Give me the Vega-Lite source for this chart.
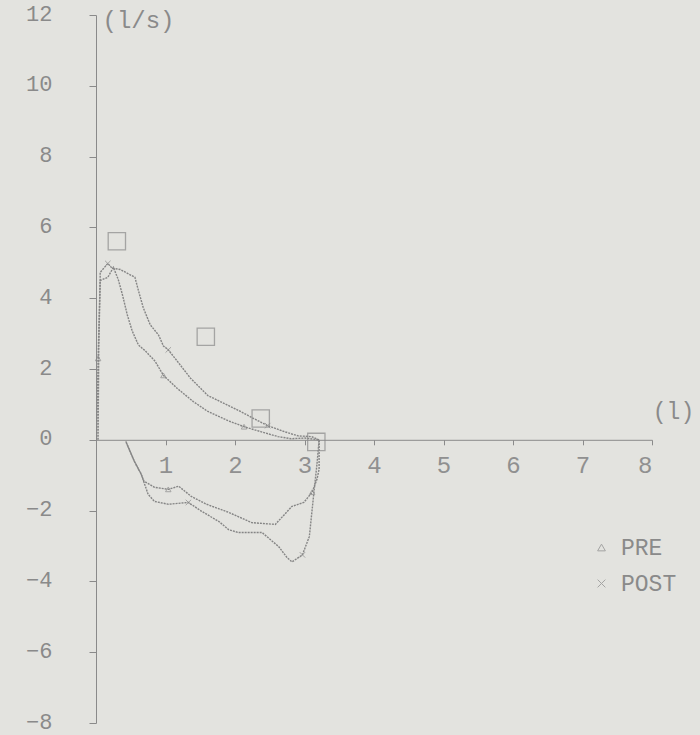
{
  "$schema": "https://vega.github.io/schema/vega-lite/v6.json",
  "width": 556,
  "height": 708,
  "autosize": {"type": "none"},
  "padding": {"left": 96, "top": 15, "right": 48, "bottom": 12},
  "background": "#e3e3df",
  "config": {"view": {"stroke": null}, "font": "Liberation Mono"},
  "datasets": {
    "loops": [
      {"s": "POST", "i": 1, "v": 0.03, "f": 0},
      {"s": "POST", "i": 2, "v": 0.04, "f": 2.6},
      {"s": "POST", "i": 3, "v": 0.06, "f": 4.5},
      {"s": "POST", "i": 4, "v": 0.06, "f": 4.73},
      {"s": "POST", "i": 5, "v": 0.17, "f": 4.98},
      {"s": "POST", "i": 6, "v": 0.23, "f": 4.85},
      {"s": "POST", "i": 7, "v": 0.35, "f": 4.81},
      {"s": "POST", "i": 8, "v": 0.56, "f": 4.59},
      {"s": "POST", "i": 9, "v": 0.61, "f": 4.22},
      {"s": "POST", "i": 10, "v": 0.68, "f": 3.73},
      {"s": "POST", "i": 11, "v": 0.78, "f": 3.25},
      {"s": "POST", "i": 12, "v": 0.9, "f": 2.96},
      {"s": "POST", "i": 13, "v": 0.97, "f": 2.65},
      {"s": "POST", "i": 14, "v": 1.04, "f": 2.54},
      {"s": "POST", "i": 15, "v": 1.17, "f": 2.22},
      {"s": "POST", "i": 16, "v": 1.36, "f": 1.74},
      {"s": "POST", "i": 17, "v": 1.61, "f": 1.25},
      {"s": "POST", "i": 18, "v": 1.84, "f": 1.03},
      {"s": "POST", "i": 19, "v": 2.08, "f": 0.8},
      {"s": "POST", "i": 20, "v": 2.27, "f": 0.6},
      {"s": "POST", "i": 21, "v": 2.47, "f": 0.4},
      {"s": "POST", "i": 22, "v": 2.71, "f": 0.23},
      {"s": "POST", "i": 23, "v": 2.91, "f": 0.11},
      {"s": "POST", "i": 24, "v": 3.1, "f": 0.09},
      {"s": "POST", "i": 25, "v": 3.21, "f": 0},
      {"s": "POST", "i": 26, "v": 3.18, "f": -0.68},
      {"s": "POST", "i": 27, "v": 3.14, "f": -1.4},
      {"s": "POST", "i": 28, "v": 3.11, "f": -1.97},
      {"s": "POST", "i": 29, "v": 3.07, "f": -2.73},
      {"s": "POST", "i": 30, "v": 2.97, "f": -3.25},
      {"s": "POST", "i": 31, "v": 2.82, "f": -3.45},
      {"s": "POST", "i": 32, "v": 2.75, "f": -3.33},
      {"s": "POST", "i": 33, "v": 2.63, "f": -3.02},
      {"s": "POST", "i": 34, "v": 2.39, "f": -2.62},
      {"s": "POST", "i": 35, "v": 2.05, "f": -2.62},
      {"s": "POST", "i": 36, "v": 1.91, "f": -2.54},
      {"s": "POST", "i": 37, "v": 1.77, "f": -2.31},
      {"s": "POST", "i": 38, "v": 1.52, "f": -2.02},
      {"s": "POST", "i": 39, "v": 1.33, "f": -1.77},
      {"s": "POST", "i": 40, "v": 1.04, "f": -1.82},
      {"s": "POST", "i": 41, "v": 0.84, "f": -1.74},
      {"s": "POST", "i": 42, "v": 0.75, "f": -1.54},
      {"s": "POST", "i": 43, "v": 0.65, "f": -0.97},
      {"s": "POST", "i": 44, "v": 0.55, "f": -0.6},
      {"s": "POST", "i": 45, "v": 0.43, "f": -0.05},
      {"s": "PRE", "i": 1, "v": 0.01, "f": 0},
      {"s": "PRE", "i": 2, "v": 0.03, "f": 2.3},
      {"s": "PRE", "i": 3, "v": 0.06, "f": 4.5},
      {"s": "PRE", "i": 4, "v": 0.17, "f": 4.59},
      {"s": "PRE", "i": 5, "v": 0.25, "f": 4.87},
      {"s": "PRE", "i": 6, "v": 0.32, "f": 4.53},
      {"s": "PRE", "i": 7, "v": 0.38, "f": 4.1},
      {"s": "PRE", "i": 8, "v": 0.45, "f": 3.53},
      {"s": "PRE", "i": 9, "v": 0.52, "f": 3.08},
      {"s": "PRE", "i": 10, "v": 0.61, "f": 2.68},
      {"s": "PRE", "i": 11, "v": 0.71, "f": 2.51},
      {"s": "PRE", "i": 12, "v": 0.85, "f": 2.22},
      {"s": "PRE", "i": 13, "v": 0.97, "f": 1.82},
      {"s": "PRE", "i": 14, "v": 1.17, "f": 1.45},
      {"s": "PRE", "i": 15, "v": 1.4, "f": 1.08},
      {"s": "PRE", "i": 16, "v": 1.61, "f": 0.8},
      {"s": "PRE", "i": 17, "v": 1.9, "f": 0.54},
      {"s": "PRE", "i": 18, "v": 2.13, "f": 0.37},
      {"s": "PRE", "i": 19, "v": 2.37, "f": 0.23},
      {"s": "PRE", "i": 20, "v": 2.62, "f": 0.09},
      {"s": "PRE", "i": 21, "v": 2.81, "f": 0.03},
      {"s": "PRE", "i": 22, "v": 3.0, "f": 0.05},
      {"s": "PRE", "i": 23, "v": 3.21, "f": 0},
      {"s": "PRE", "i": 24, "v": 3.21, "f": -0.83},
      {"s": "PRE", "i": 25, "v": 3.18, "f": -1.11},
      {"s": "PRE", "i": 26, "v": 3.11, "f": -1.48},
      {"s": "PRE", "i": 27, "v": 2.99, "f": -1.77},
      {"s": "PRE", "i": 28, "v": 2.82, "f": -1.88},
      {"s": "PRE", "i": 29, "v": 2.58, "f": -2.39},
      {"s": "PRE", "i": 30, "v": 2.24, "f": -2.34},
      {"s": "PRE", "i": 31, "v": 1.91, "f": -2.05},
      {"s": "PRE", "i": 32, "v": 1.59, "f": -1.82},
      {"s": "PRE", "i": 33, "v": 1.37, "f": -1.6},
      {"s": "PRE", "i": 34, "v": 1.19, "f": -1.31},
      {"s": "PRE", "i": 35, "v": 1.04, "f": -1.4},
      {"s": "PRE", "i": 36, "v": 0.84, "f": -1.34},
      {"s": "PRE", "i": 37, "v": 0.69, "f": -1.17},
      {"s": "PRE", "i": 38, "v": 0.65, "f": -0.97},
      {"s": "PRE", "i": 39, "v": 0.55, "f": -0.6},
      {"s": "PRE", "i": 40, "v": 0.43, "f": -0.05}
    ],
    "markers": [
      {"s": "POST", "v": 0.17, "f": 4.98},
      {"s": "POST", "v": 1.04, "f": 2.54},
      {"s": "POST", "v": 2.47, "f": 0.4},
      {"s": "POST", "v": 2.97, "f": -3.25},
      {"s": "POST", "v": 1.33, "f": -1.77},
      {"s": "PRE", "v": 0.03, "f": 2.3},
      {"s": "PRE", "v": 0.97, "f": 1.82},
      {"s": "PRE", "v": 2.13, "f": 0.37},
      {"s": "PRE", "v": 3.11, "f": -1.48},
      {"s": "PRE", "v": 1.04, "f": -1.4}
    ],
    "pred": [
      {"v": 0.3, "f": 5.61},
      {"v": 1.58, "f": 2.91},
      {"v": 2.37, "f": 0.6},
      {"v": 3.17, "f": -0.06}
    ]
  },
  "layer": [
    {
      "data": {"name": "loops"},
      "mark": {"type": "line", "strokeWidth": 1.4, "color": "#858585", "strokeDash": [2, 1]},
      "encoding": {
        "x": {
          "field": "v", "type": "quantitative",
          "scale": {"domain": [0, 8], "nice": false, "zero": false},
          "axis": {
            "values": [1, 2, 3, 4, 5, 6, 7, 8],
            "format": "d",
            "offset": -283.2,
            "title": "(l)",
            "titleX": 577, "titleY": -28, "titleAngle": 0,
            "titleAlign": "center", "titleBaseline": "middle",
            "titleFontWeight": "normal", "titleFontSize": 23, "titleColor": "#8a8a8a",
            "titleFont": "Liberation Mono",
            "grid": false, "tickSize": 5, "labelPadding": 9,
            "labelFontSize": 24, "labelColor": "#909090", "labelFont": "Liberation Mono",
            "domainColor": "#8a8a8a", "tickColor": "#8a8a8a"
          }
        },
        "y": {
          "field": "f", "type": "quantitative",
          "scale": {"domain": [-8, 12], "nice": false, "zero": false},
          "axis": {
            "values": [-8, -6, -4, -2, 0, 2, 4, 6, 8, 10, 12],
            "format": "d",
            "title": "(l/s)",
            "titleX": 6, "titleY": 5, "titleAngle": 0,
            "titleAlign": "left", "titleBaseline": "middle",
            "titleFontWeight": "normal", "titleFontSize": 24, "titleColor": "#8a8a8a",
            "titleFont": "Liberation Mono",
            "grid": false, "tickSize": 7, "labelPadding": 37,
            "labelFontSize": 22, "labelOffset": -2, "labelColor": "#8a8a8a", "labelFont": "Liberation Mono",
            "domainColor": "#8a8a8a", "tickColor": "#8a8a8a"
          }
        },
        "detail": {"field": "s", "type": "nominal"},
        "order": {"field": "i", "type": "quantitative"}
      }
    },
    {
      "data": {"name": "markers"},
      "mark": {"type": "point", "size": 30, "strokeWidth": 1, "filled": false, "color": "#8a8a8a"},
      "encoding": {
        "x": {"field": "v", "type": "quantitative"},
        "y": {"field": "f", "type": "quantitative"},
        "shape": {
          "field": "s", "type": "nominal",
          "scale": {"domain": ["PRE", "POST"], "range": ["triangle-up", "M-1,-1L1,1M-1,1L1,-1"]},
          "legend": {
            "orient": "none", "legendX": 494, "legendY": 521, "title": null,
            "labelFontSize": 23, "labelColor": "#8a8a8a", "labelFont": "Liberation Mono",
            "labelOffset": 8,
            "symbolStrokeColor": "#8a8a8a", "symbolSize": 60, "symbolStrokeWidth": 1,
            "symbolFillColor": "transparent", "rowPadding": 12
          }
        }
      }
    },
    {
      "data": {"name": "pred"},
      "mark": {"type": "point", "shape": "square", "size": 300, "filled": false, "color": "#8a8a8a", "strokeWidth": 1.3},
      "encoding": {
        "x": {"field": "v", "type": "quantitative"},
        "y": {"field": "f", "type": "quantitative"}
      }
    }
  ]
}
